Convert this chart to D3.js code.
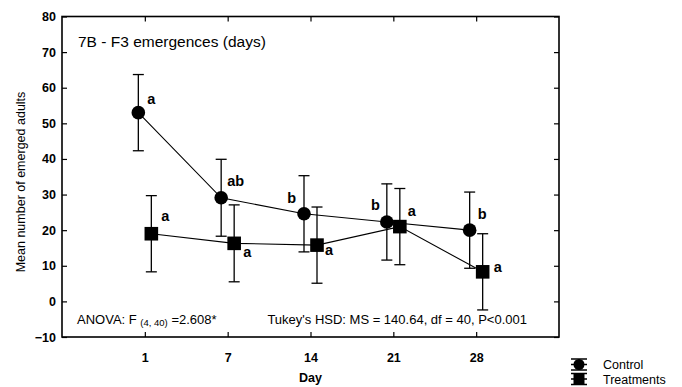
<!DOCTYPE html>
<html>
<head>
<meta charset="utf-8">
<script src="https://cdn.jsdelivr.net/npm/d3@7"></script>
<style>
  body { margin: 0; background: #fff; }
  svg { font-family: "Liberation Sans", Arial, sans-serif; }
</style>
</head>
<body>
<div id="chart"></div>
<script>
// data
var days = ["1", "7", "14", "21", "28"];
var controlMean = [53.0, 29.1, 24.6, 22.3, 20.0];
var controlErr  = [10.7, 10.8, 10.7, 10.7, 10.7];
var treatMean   = [19.0, 16.3, 15.8, 21.0, 8.3];
var treatErr    = [10.7, 10.8, 10.7, 10.7, 10.7];
var controlLetters = ["a", "ab", "b", "b", "b"];
var treatLetters   = ["a", "a", "a", "a", "a"];
var yTicks = [-10, 0, 10, 20, 30, 40, 50, 60, 70, 80];

// where each letter sits next to its marker
var controlLetterPos = [[9, -9, "start"], [6, -12, "start"], [-8, -11, "end"], [-7, -12, "end"], [8, -11, "start"]];
var treatLetterPos   = [[10, -13, "start"], [9, 14, "start"], [8, 10, "start"], [8, -11, "start"], [11, 0, "start"]];

var W = 682, H = 387;
var plotL = 62, plotR = 559, plotT = 16.5, plotB = 337;

var svg = d3.select("#chart").append("svg")
    .attr("width", W)
    .attr("height", H);

var x = d3.scalePoint().domain(days).range([plotL, plotR]).padding(1);
var y = d3.scaleLinear().domain([-10, 80]).range([plotB, plotT]);

// axes, ticks point inwards
var gx = svg.append("g")
    .attr("transform", "translate(0," + plotB + ")")
    .call(d3.axisBottom(x).tickSizeInner(-5).tickSizeOuter(0).tickPadding(16));
var gy = svg.append("g")
    .attr("transform", "translate(" + plotL + ",0)")
    .call(d3.axisLeft(y).tickValues(yTicks).tickSizeInner(-5).tickSizeOuter(0).tickPadding(6));
var gt = svg.append("g")
    .attr("transform", "translate(0," + plotT + ")")
    .call(d3.axisTop(x).tickSizeInner(-5).tickSizeOuter(0).tickFormat(""));
var gr = svg.append("g")
    .attr("transform", "translate(" + plotR + ",0)")
    .call(d3.axisRight(y).tickValues(yTicks).tickSizeInner(-5).tickSizeOuter(0).tickFormat(""));

[gx, gy, gt, gr].forEach(function(g) {
  g.select(".domain").remove();
  g.selectAll("line").attr("stroke", "#000").attr("stroke-width", 1.2);
  g.selectAll("text")
    .attr("fill", "#000")
    .style("font-family", "'Liberation Sans', Arial, sans-serif")
    .style("font-size", "12.5px")
    .style("font-weight", "bold");
});

svg.append("rect")
    .attr("x", plotL)
    .attr("y", plotT)
    .attr("width", plotR - plotL)
    .attr("height", plotB - plotT)
    .attr("fill", "none")
    .attr("stroke", "#000")
    .attr("stroke-width", 1.6);

// axis titles
svg.append("text")
    .attr("x", (plotL + plotR) / 2)
    .attr("y", 382)
    .attr("text-anchor", "middle")
    .style("font-size", "12.5px")
    .style("font-weight", "bold")
    .text("Day");

svg.append("text")
    .attr("transform", "translate(25," + 182 + ") rotate(-90)")
    .attr("text-anchor", "middle")
    .style("font-size", "12.5px")
    .text("Mean number of emerged adults");

// series
var series = [
  {name: "Control", mean: controlMean, err: controlErr, letters: controlLetters, pos: controlLetterPos, shift: -6.5, shape: "circle"},
  {name: "Treatments", mean: treatMean, err: treatErr, letters: treatLetters, pos: treatLetterPos, shift: 6.5, shape: "square"}
];

var line = d3.line()
    .x(function(d) { return d.x; })
    .y(function(d) { return d.y; });

series.forEach(function(s) {
  var pts = days.map(function(d, i) {
    return {x: x(d) + s.shift, y: y(s.mean[i]), hi: y(s.mean[i] + s.err[i]), lo: y(s.mean[i] - s.err[i]), i: i};
  });

  var g = svg.append("g");

  // error bars
  var eb = g.selectAll(".eb").data(pts).enter().append("g");
  eb.append("line")
    .attr("x1", function(d) { return d.x; }).attr("x2", function(d) { return d.x; })
    .attr("y1", function(d) { return d.hi; }).attr("y2", function(d) { return d.lo; })
    .attr("stroke", "#000").attr("stroke-width", 1.3);
  eb.append("line")
    .attr("x1", function(d) { return d.x - 5.5; }).attr("x2", function(d) { return d.x + 5.5; })
    .attr("y1", function(d) { return d.hi; }).attr("y2", function(d) { return d.hi; })
    .attr("stroke", "#000").attr("stroke-width", 1.3);
  eb.append("line")
    .attr("x1", function(d) { return d.x - 5.5; }).attr("x2", function(d) { return d.x + 5.5; })
    .attr("y1", function(d) { return d.lo; }).attr("y2", function(d) { return d.lo; })
    .attr("stroke", "#000").attr("stroke-width", 1.3);

  g.append("path")
    .attr("d", line(pts))
    .attr("fill", "none")
    .attr("stroke", "#000")
    .attr("stroke-width", 1.1);

  if (s.shape == "circle") {
    g.selectAll(".mk").data(pts).enter().append("circle")
      .attr("cx", function(d) { return d.x; })
      .attr("cy", function(d) { return d.y; })
      .attr("r", 6.8)
      .attr("fill", "#000");
  } else {
    g.selectAll(".mk").data(pts).enter().append("rect")
      .attr("x", function(d) { return d.x - 6.8; })
      .attr("y", function(d) { return d.y - 6.8; })
      .attr("width", 13.6)
      .attr("height", 13.6)
      .attr("fill", "#000");
  }

  g.selectAll(".lt").data(pts).enter().append("text")
    .attr("x", function(d) { return d.x + s.pos[d.i][0]; })
    .attr("y", function(d) { return d.y + s.pos[d.i][1]; })
    .attr("text-anchor", function(d) { return s.pos[d.i][2]; })
    .style("font-size", "14.5px")
    .style("font-weight", "bold")
    .text(function(d) { return s.letters[d.i]; });
});

// annotations
svg.append("text")
    .attr("x", 78)
    .attr("y", 47)
    .style("font-size", "15.5px")
    .text("7B - F3 emergences (days)");

var anova = svg.append("text")
    .attr("x", 77)
    .attr("y", 324)
    .style("font-size", "13px");
anova.append("tspan").text("ANOVA: F ");
anova.append("tspan").attr("dy", 2).style("font-size", "9.5px").text("(4, 40)");
anova.append("tspan").attr("dy", -2).text(" =2.608*");

svg.append("text")
    .attr("x", 527)
    .attr("y", 324)
    .attr("text-anchor", "end")
    .style("font-size", "13px")
    .text("Tukey's HSD: MS = 140.64, df = 40, P<0.001");

// legend
var legend = svg.append("g");
series.forEach(function(s, i) {
  var cx = 579, cy = 364.5 + i * 14.5;
  var lg = legend.append("g");
  [-5.5, 0, 5.5].forEach(function(off) {
    lg.append("line").attr("x1", cx - 8).attr("x2", cx + 8).attr("y1", cy + off).attr("y2", cy + off)
      .attr("stroke", "#000").attr("stroke-width", 1.5);
  });
  lg.append("line").attr("x1", cx).attr("x2", cx).attr("y1", cy - 5.5).attr("y2", cy + 5.5)
    .attr("stroke", "#000").attr("stroke-width", 1.5);
  if (s.shape == "circle") {
    lg.append("circle").attr("cx", cx).attr("cy", cy).attr("r", 5.5).attr("fill", "#000");
  } else {
    lg.append("rect").attr("x", cx - 5.5).attr("y", cy - 5.5).attr("width", 11).attr("height", 11).attr("fill", "#000");
  }
  lg.append("text")
    .attr("x", 603)
    .attr("y", cy + 4.5)
    .style("font-size", "12.5px")
    .text(s.name);
});
</script>
</body>
</html>
